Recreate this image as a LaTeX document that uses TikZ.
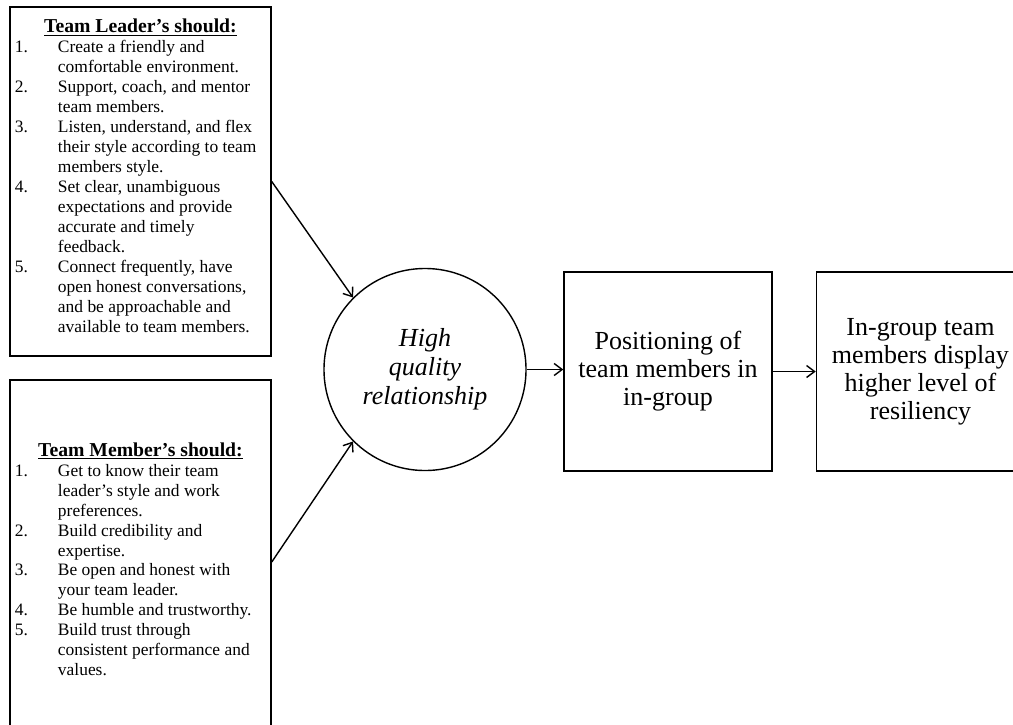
\documentclass[tikz,border=0pt]{standalone}
\usepackage{fontspec}
\setmainfont{Liberation Serif}
\usetikzlibrary{positioning, arrows.meta}

\tikzset{
    listbox/.style={draw, rectangle, line width=1pt, minimum width=6.525cm,
        inner sep=0pt, font=\fontsize{12.4}{14.2}\selectfont},
    bigbox/.style={draw, rectangle, line width=1pt, minimum width=5.2cm,
        minimum height=4.975cm, align=center, font=\fontsize{18.5}{20}\selectfont},
    conn/.style={->, line width=1pt}
}
\newcommand{\listhead}[1]{\multicolumn{2}{c}{\fontsize{14}{16}\selectfont\underline{\textbf{#1}}}}

\begin{document}
\begin{tikzpicture}[x=0.025cm, y=-0.025cm, >={Straight Barb[length=2mm, width=3mm]}]
    \useasboundingbox (0,0) rectangle (1013,724);
    % left column: the two lists
    \node[listbox, minimum height=8.725cm] (lead) at (140.5,181.5) {%
        \begin{tabular}{@{}p{1.075cm}@{}p{5.2cm}@{}}
            \listhead{Team Leader’s should:}\\
            1. & Create a friendly and\\
               & comfortable environment.\\
            2. & Support, coach, and mentor\\
               & team members.\\
            3. & Listen, understand, and flex\\
               & their style according to team\\
               & members style.\\
            4. & Set clear, unambiguous\\
               & expectations and provide\\
               & accurate and timely\\
               & feedback.\\
            5. & Connect frequently, have\\
               & open honest conversations,\\
               & and be approachable and\\
               & available to team members.\\[0.15cm]
        \end{tabular}};
    \node[listbox, minimum height=9.1cm] (memb) at (140.5,562) {%
        \begin{tabular}{@{}p{1.075cm}@{}p{5.2cm}@{}}
            \listhead{Team Member’s should:}\\
            1. & Get to know their team\\
               & leader’s style and work\\
               & preferences.\\
            2. & Build credibility and\\
               & expertise.\\
            3. & Be open and honest with\\
               & your team leader.\\
            4. & Be humble and trustworthy.\\
            5. & Build trust through\\
               & consistent performance and\\
               & values.
        \end{tabular}};
    % middle and right
    \node[draw, circle, line width=1pt, minimum size=5.05cm, inner sep=0pt, align=center,
        font=\fontsize{18.5}{20.6}\selectfont\itshape] (hq) at (425,369.5)
        {High\\quality\\relationship};
    \node[bigbox] (pos) at (668,371.5) {Positioning of\\team members in\\in-group};
    \node[bigbox, right=1.075cm of pos] (res) {In-group team\\members display\\higher level of\\resiliency};

    \draw[conn] (lead.east) -- (hq.135);
    \draw[conn] (memb.east) -- (hq.225);
    \draw[conn] (hq.east) -- (hq.east -| pos.west);
    \draw[conn] (pos.east) -- (res.west);
\end{tikzpicture}
\end{document}
